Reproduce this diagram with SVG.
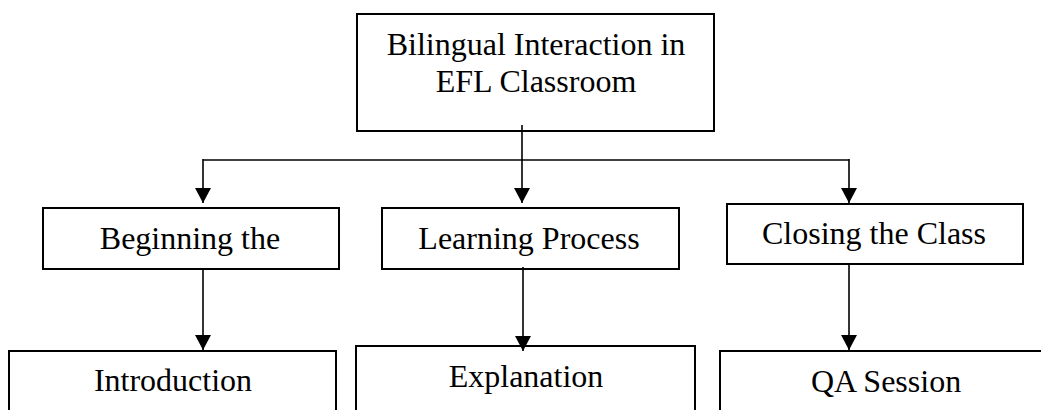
<svg xmlns="http://www.w3.org/2000/svg" width="1041" height="410" viewBox="0 0 1041 410">
<style>
.box{fill:#fff;stroke:#000;stroke-width:2}
.lbl{font-family:"Liberation Serif","Times New Roman",serif;font-size:32px;fill:#000;text-anchor:middle}
.conn{fill:none;stroke:#000;stroke-width:1.6}
</style>
<defs>
<marker id="arr" markerUnits="userSpaceOnUse" markerWidth="16" markerHeight="16" viewBox="0 0 15 16" refX="15" refY="8" orient="auto">
<path d="M0,0 L15,8 L0,16 z" fill="#000"/>
</marker>
</defs>
<rect width="1041" height="410" fill="#fff"/>
<g id="root">
<rect class="box" x="357" y="14" width="357" height="117"/>
<text class="lbl" x="536" y="55">Bilingual Interaction in</text>
<text class="lbl" x="536" y="92">EFL Classroom</text>
</g>
<g id="beginning">
<rect class="box" x="43" y="208" width="296" height="61"/>
<text class="lbl" x="190" y="249">Beginning the</text>
</g>
<g id="learning">
<rect class="box" x="382" y="208" width="297" height="61"/>
<text class="lbl" x="529" y="249">Learning Process</text>
</g>
<g id="closing">
<rect class="box" x="727" y="204" width="296" height="60"/>
<text class="lbl" x="874" y="244">Closing the Class</text>
</g>
<g id="introduction">
<rect class="box" x="9" y="351" width="327" height="80"/>
<text class="lbl" x="173" y="391">Introduction</text>
</g>
<g id="explanation">
<rect class="box" x="356" y="346" width="339" height="80"/>
<text class="lbl" x="526" y="387">Explanation</text>
</g>
<g id="qa">
<rect class="box" x="720" y="351" width="340" height="80"/>
<text class="lbl" x="886" y="392">QA Session</text>
</g>
<g id="connectors">
<path class="conn" d="M203,160 L849,160" stroke-width="2"/>
<path class="conn" d="M522,125 L522,203" marker-end="url(#arr)"/>
<path class="conn" d="M203,159 L203,203" marker-end="url(#arr)"/>
<path class="conn" d="M849,159 L849,203" marker-end="url(#arr)"/>
<path class="conn" d="M203,269 L203,350" marker-end="url(#arr)"/>
<path class="conn" d="M523,267 L523,351" marker-end="url(#arr)"/>
<path class="conn" d="M849,264 L849,350" marker-end="url(#arr)"/>
</g>
</svg>
